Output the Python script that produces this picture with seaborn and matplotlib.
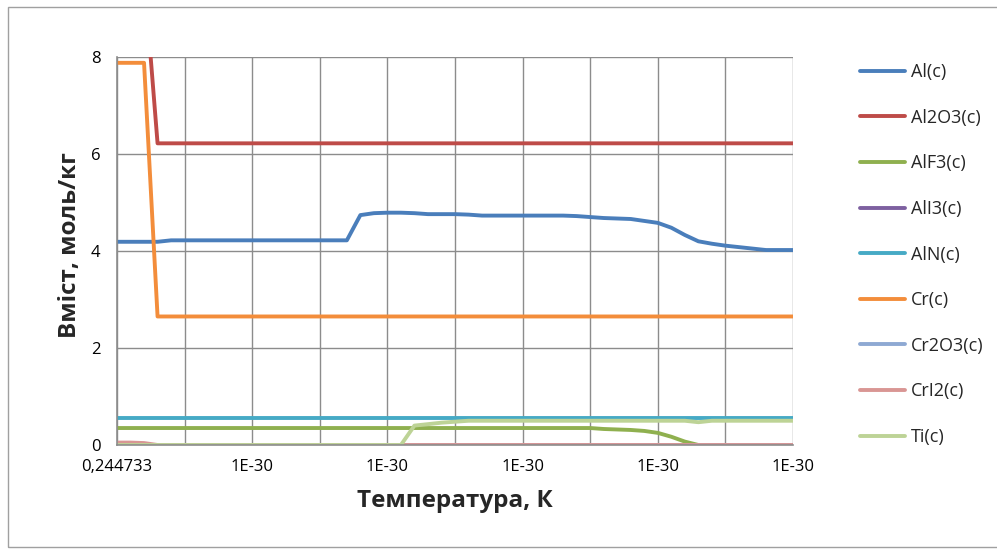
import numpy as np
import pandas as pd
import matplotlib
matplotlib.use("Agg")
import matplotlib.pyplot as plt
import seaborn as sns
from matplotlib.patches import Rectangle

# x categories (51 points), labels shown every 10th
categories = ["0,244733"] + ["1E-30"] * 50

al = [4.19, 4.19, 4.19, 4.19, 4.22, 4.22, 4.22, 4.22, 4.22, 4.22,
      4.22, 4.22, 4.22, 4.22, 4.22, 4.22, 4.22, 4.22, 4.74, 4.78,
      4.79, 4.79, 4.78, 4.76, 4.76, 4.76, 4.75, 4.73, 4.73, 4.73,
      4.73, 4.73, 4.73, 4.73, 4.72, 4.70, 4.68, 4.67, 4.66, 4.62,
      4.58, 4.48, 4.33, 4.20, 4.15, 4.11, 4.08, 4.05, 4.02, 4.02, 4.02]
al2o3 = [9.7, 9.7, 9.7] + [6.22] * 48
alf3 = [0.35] * 36 + [0.33, 0.32, 0.31, 0.29, 0.25, 0.17, 0.07] + [0.0] * 8
ali3 = [0.0] * 51
aln = [0.56] * 51
cr = [7.88, 7.88, 7.88] + [2.65] * 48
cr2o3 = [0.0] * 51
cri2 = [0.05, 0.05, 0.04] + [0.0] * 48
ti = [0.0] * 22 + [0.40, 0.43, 0.46, 0.48] + [0.5] * 17 + [0.47] + [0.5] * 7

names = ["Al(c)", "Al2O3(c)", "AlF3(c)", "AlI3(c)", "AlN(c)",
         "Cr(c)", "Cr2O3(c)", "CrI2(c)", "Ti(c)"]
series = [al, al2o3, alf3, ali3, aln, cr, cr2o3, cri2, ti]
colors = ["#4A7EBB", "#BE4B48", "#8FB04F", "#7D60A0", "#46AAC5",
          "#F38D3B", "#8EA9D3", "#D99694", "#BDD396"]

rows = []
for name, vals in zip(names, series):
    for i, v in enumerate(vals):
        rows.append({"idx": i, "value": v, "phase": name})
df = pd.DataFrame(rows)

sns.set_style("white")
plt.rcParams['font.family'] = ['Open Sans', 'DejaVu Sans']

fig = plt.figure(figsize=(9.97, 5.54), dpi=100)
ax = fig.add_axes([117 / 997, 1 - 445 / 554, 676 / 997, 388 / 554])

sns.lineplot(data=df, x="idx", y="value", hue="phase", hue_order=names,
             palette=colors, linewidth=2.8, ax=ax, legend=False,
             estimator=None, sort=False)

ax.set_xlim(0, 50)
ax.set_ylim(0, 8)
ax.set_yticks([0, 2, 4, 6, 8])
ax.set_xticks(range(0, 51, 5))
ax.set_xticklabels([categories[i] if i % 10 == 0 else "" for i in range(0, 51, 5)])
ax.grid(True, color="#8c8c8c", linewidth=1.0)
ax.set_axisbelow(True)
for s in ["top", "right"]:
    ax.spines[s].set_visible(False)
for s in ["left", "bottom"]:
    ax.spines[s].set_color("#8c8c8c")
    ax.spines[s].set_linewidth(1.2)
ax.tick_params(axis="both", direction="out", length=5, width=1,
               color="#8c8c8c", labelsize=12, labelcolor="black")
ax.tick_params(axis="y", pad=7)
ax.tick_params(axis="x", pad=5)

ax.set_xlabel("Температура, К", fontsize=17.5, fontweight="bold", labelpad=10)
ax.set_ylabel("Вміст, моль/кг", fontsize=17.5, fontweight="bold")
ax.yaxis.set_label_coords(-0.052, 0.515)

# legend on the right
handles = [plt.Line2D([], [], color=c, linewidth=2.8) for c in colors]
fig.legend(handles, names, loc="upper left", bbox_to_anchor=(860 / 997, 1 - 63 / 554),
           frameon=False, fontsize=13, handlelength=2.5, labelspacing=1.53,
           handletextpad=0.3, borderpad=0, borderaxespad=0)

# outer chart frame
fig.patches.append(Rectangle((8 / 997, 1 - 547 / 554), 1.0, 540 / 554,
                             transform=fig.transFigure, fill=False,
                             edgecolor="#a0a0a0", linewidth=1.0))

fig.savefig("out.png", dpi=100)
